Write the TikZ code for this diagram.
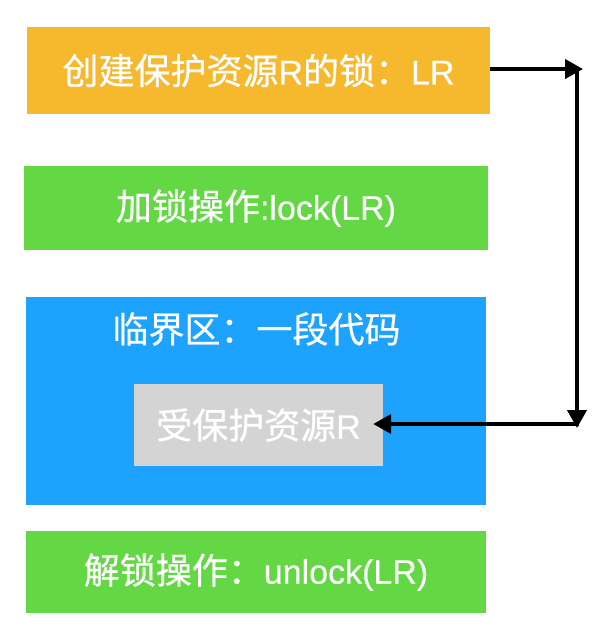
\documentclass[tikz,border=0pt]{standalone}
\usepackage{fontspec}
\setmainfont[FakeBold=0.4]{Liberation Sans}
\newfontfamily\cjk[FakeBold=0.6]{Noto Sans CJK SC}
\usetikzlibrary{arrows.meta}
\definecolor{boxorange}{HTML}{F6B82D}
\definecolor{boxgreen}{HTML}{64D745}
\definecolor{boxblue}{HTML}{1DA3FE}
\definecolor{boxgrey}{HTML}{D4D4D4}
\newcommand\zh[1]{{\cjk\fontsize{36}{40}\selectfont #1}}
\begin{document}
\begin{tikzpicture}[x=1pt,y=-1pt,
  box/.style={rectangle, inner sep=0pt, text=white, font=\fontsize{34}{40}\selectfont},
  arr/.style={line width=4pt, -{Triangle[length=18pt,width=19pt]}}]
\useasboundingbox (0,0) rectangle (598,630);
\node[box, fill=boxorange, minimum width=463pt, minimum height=87pt] (create) at (258.5,70.5) {\zh{创建保护资源}R\zh{的锁：}LR};
\node[box, fill=boxgreen, minimum width=464pt, minimum height=84pt] (lock) at (256,208) {\zh{加锁操作}:lock(LR)};
\node[box, fill=boxblue, minimum width=460pt, minimum height=208pt] (crit) at (256,401) {};
\node[box, anchor=center] (critlabel) at (256.5,329) {\zh{临界区：一段代码}};
\node[box, fill=boxgrey, minimum width=249pt, minimum height=82pt] (res) at (258.5,425) {\zh{受保护资源}R};
\node[box, fill=boxgreen, minimum width=460pt, minimum height=82pt] (unlock) at (256,572) {\zh{解锁操作：}unlock(LR)};
\coordinate (c1) at (583,69);
\coordinate (c2) at (577,67);
\coordinate (c3) at (577,428);
\coordinate (c4) at (579,424);
\draw[arr] (create.east |- c1) -- (c1);
\draw[arr] (c2) -- (c3);
\draw[arr] (c4) -- ([xshift=-10pt]res.east |- c4);
\end{tikzpicture}
\end{document}
